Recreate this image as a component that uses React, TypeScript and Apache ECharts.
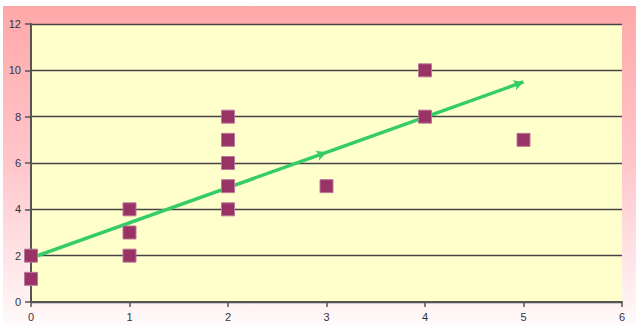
import React, { useEffect, useRef } from "react";
import * as echarts from "echarts";

const xValues = [0, 0, 1, 1, 1, 2, 2, 2, 2, 2, 3, 4, 4, 5];
const yValues = [2, 1, 4, 3, 2, 8, 7, 6, 5, 4, 5, 10, 8, 7];
const trendX = [0, 3, 5];
const trendY = [1.9, 6.46, 9.5];

export default function App() {
  const ref = useRef<HTMLDivElement>(null);
  useEffect(() => {
    document.body.style.margin = "0";
    const chart = echarts.init(ref.current!, undefined, { renderer: "svg" });
    const arrowRot = -70;
    chart.setOption({
      animation: false,
      graphic: [
        {
          type: "rect",
          z: -10,
          silent: true,
          shape: { x: 3, y: 6, width: 633, height: 319 },
          style: {
            fill: new echarts.graphic.LinearGradient(0, 0, 0, 1, [
              { offset: 0, color: "#ffa8a8" },
              { offset: 0.5, color: "#ffc6cc" },
              { offset: 1, color: "#fffafa" },
            ]),
          },
        },
      ],
      grid: {
        left: 31,
        right: 14,
        top: 24,
        bottom: 23,
        show: true,
        backgroundColor: "#ffffcc",
        borderWidth: 0,
      },
      xAxis: {
        type: "value",
        min: 0,
        max: 6,
        interval: 1,
        axisLine: { show: true, onZero: false, lineStyle: { color: "#555", width: 2 } },
        axisTick: { show: true, length: 5, lineStyle: { color: "#555", width: 1.5 } },
        axisLabel: { color: "#334", fontSize: 11, fontFamily: "Arial, Liberation Sans, sans-serif", margin: 9 },
        splitLine: { show: false },
      },
      yAxis: {
        type: "value",
        min: 0,
        max: 12,
        interval: 2,
        axisLine: { show: true, onZero: false, lineStyle: { color: "#555", width: 2 } },
        axisTick: { show: true, length: 6, lineStyle: { color: "#555", width: 1.5 } },
        axisLabel: { color: "#334", fontSize: 11, fontFamily: "Arial, Liberation Sans, sans-serif", margin: 10 },
        splitLine: { show: true, lineStyle: { color: "#444", width: 1.3 } },
      },
      series: [
        {
          type: "line",
          data: trendX.map((x, i) => ({
            value: [x, trendY[i]],
            symbol: i === 0 ? "none" : "arrow",
            symbolSize: [8, 10],
            symbolRotate: arrowRot,
          })),
          showSymbol: true,
          lineStyle: { color: "#33cc66", width: 3.5 },
          itemStyle: { color: "#33cc66" },
          z: 3,
        },
        {
          type: "scatter",
          data: xValues.map((x, i) => [x, yValues[i]]),
          symbol: "rect",
          symbolSize: 13,
          itemStyle: { color: "#993366", opacity: 1, borderColor: "#b9789a", borderWidth: 1 },
          z: 4,
        },
      ],
    });
    return () => chart.dispose();
  }, []);
  return <div ref={ref} style={{ width: 636, height: 325 }} />;
}
